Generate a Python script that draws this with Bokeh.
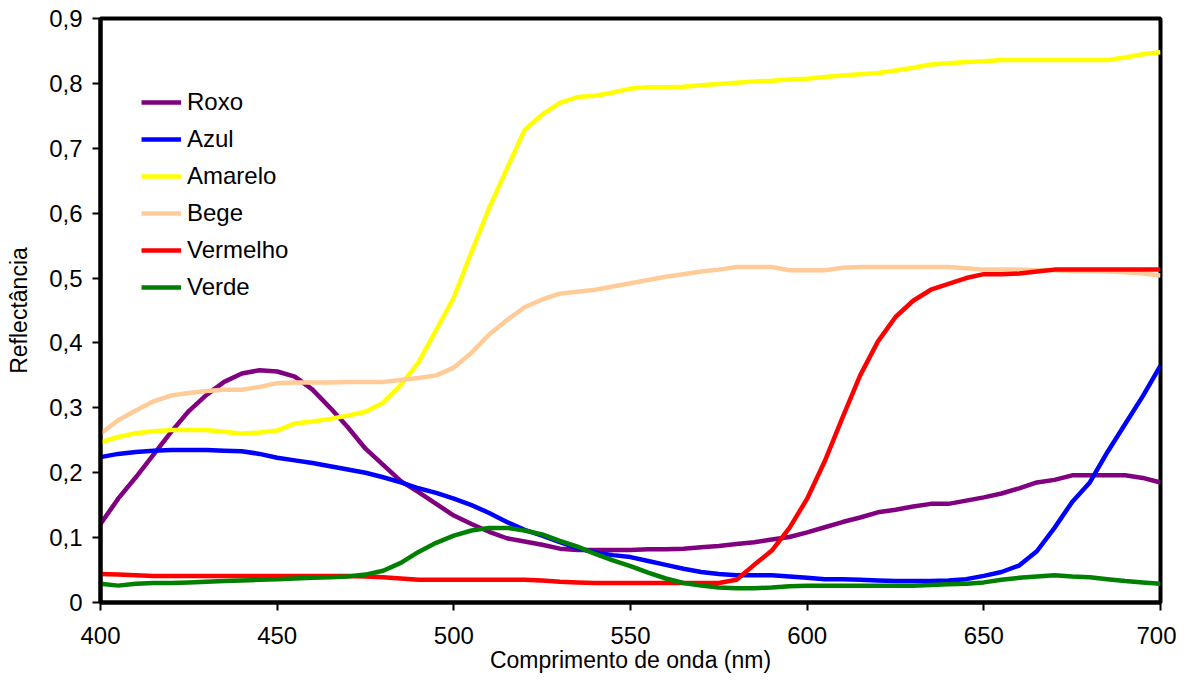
from bokeh.plotting import figure
from bokeh.models import Range1d, CustomJSTickFormatter, FixedTicker, Legend, LegendItem
from bokeh.embed import file_html
from bokeh.resources import INLINE

wavelength = list(range(400, 705, 5))

roxo = [0.121, 0.160, 0.193, 0.228, 0.263, 0.295, 0.320, 0.340, 0.353, 0.358,
        0.356, 0.348, 0.328, 0.300, 0.270, 0.237, 0.212, 0.187, 0.170, 0.152,
        0.134, 0.121, 0.109, 0.099, 0.094, 0.089, 0.083, 0.081, 0.081, 0.081,
        0.081, 0.082, 0.082, 0.083, 0.085, 0.087, 0.090, 0.093, 0.097, 0.101,
        0.108, 0.116, 0.124, 0.131, 0.139, 0.143, 0.148, 0.152, 0.152, 0.157,
        0.162, 0.168, 0.176, 0.185, 0.189, 0.196, 0.196, 0.196, 0.196, 0.192,
        0.185]

azul = [0.224, 0.229, 0.232, 0.234, 0.235, 0.235, 0.235, 0.234, 0.233, 0.229,
        0.223, 0.219, 0.215, 0.210, 0.205, 0.200, 0.193, 0.185, 0.176, 0.169,
        0.160, 0.150, 0.138, 0.124, 0.112, 0.103, 0.093, 0.084, 0.077, 0.073,
        0.070, 0.064, 0.058, 0.052, 0.047, 0.044, 0.042, 0.042, 0.042, 0.040,
        0.038, 0.036, 0.036, 0.035, 0.034, 0.033, 0.033, 0.033, 0.034, 0.036,
        0.041, 0.047, 0.057, 0.079, 0.115, 0.155, 0.185, 0.232, 0.275, 0.318,
        0.365]

amarelo = [0.247, 0.255, 0.261, 0.264, 0.266, 0.266, 0.266, 0.263, 0.260, 0.262,
           0.265, 0.276, 0.279, 0.283, 0.288, 0.294, 0.308, 0.335, 0.370, 0.420,
           0.470, 0.540, 0.608, 0.668, 0.728, 0.752, 0.770, 0.779, 0.781, 0.786,
           0.792, 0.794, 0.794, 0.795, 0.797, 0.799, 0.801, 0.803, 0.804, 0.806,
           0.807, 0.810, 0.812, 0.814, 0.816, 0.820, 0.824, 0.829, 0.831, 0.833,
           0.834, 0.836, 0.836, 0.836, 0.836, 0.836, 0.836, 0.836, 0.840, 0.845,
           0.848]

bege = [0.260, 0.281, 0.296, 0.310, 0.319, 0.323, 0.326, 0.328, 0.328, 0.332,
        0.338, 0.339, 0.339, 0.339, 0.340, 0.340, 0.340, 0.343, 0.346, 0.350,
        0.362, 0.385, 0.413, 0.435, 0.455, 0.467, 0.476, 0.479, 0.482, 0.487,
        0.492, 0.497, 0.502, 0.506, 0.510, 0.513, 0.517, 0.517, 0.517, 0.512,
        0.512, 0.512, 0.516, 0.517, 0.517, 0.517, 0.517, 0.517, 0.517, 0.515,
        0.513, 0.513, 0.513, 0.512, 0.512, 0.511, 0.511, 0.510, 0.509, 0.507,
        0.504]

vermelho = [0.044, 0.043, 0.042, 0.041, 0.041, 0.041, 0.041, 0.041, 0.041, 0.041,
            0.041, 0.041, 0.041, 0.041, 0.041, 0.040, 0.039, 0.037, 0.035, 0.035,
            0.035, 0.035, 0.035, 0.035, 0.035, 0.034, 0.032, 0.031, 0.030, 0.030,
            0.030, 0.030, 0.030, 0.030, 0.030, 0.030, 0.035, 0.058, 0.080, 0.115,
            0.160, 0.218, 0.285, 0.350, 0.402, 0.440, 0.465, 0.482, 0.491, 0.500,
            0.506, 0.506, 0.507, 0.510, 0.513, 0.513, 0.513, 0.513, 0.513, 0.513,
            0.513]

verde = [0.029, 0.026, 0.029, 0.030, 0.030, 0.031, 0.032, 0.033, 0.034, 0.035,
         0.036, 0.037, 0.038, 0.039, 0.040, 0.043, 0.049, 0.061, 0.078, 0.092,
         0.103, 0.111, 0.115, 0.115, 0.111, 0.105, 0.095, 0.086, 0.075, 0.065,
         0.056, 0.046, 0.037, 0.030, 0.026, 0.023, 0.022, 0.022, 0.023, 0.025,
         0.026, 0.026, 0.026, 0.026, 0.026, 0.026, 0.026, 0.027, 0.028, 0.029,
         0.031, 0.035, 0.038, 0.040, 0.042, 0.040, 0.039, 0.036, 0.033, 0.031,
         0.029]

series_names = ["Roxo", "Azul", "Amarelo", "Bege", "Vermelho", "Verde"]
series_values = [roxo, azul, amarelo, bege, vermelho, verde]
series_colors = ["#800080", "#0000FF", "#FFFF00", "#FFCC99", "#FF0000", "#008000"]

x_ticks = [400, 450, 500, 550, 600, 650, 700]
y_ticks = [0, 0.1, 0.2, 0.3, 0.4, 0.5, 0.6, 0.7, 0.8, 0.9]

FONT = "Liberation Sans"

p = figure(width=1176, height=677, output_backend="svg", toolbar_location=None,
           x_range=Range1d(400, 700), y_range=Range1d(0, 0.9),
           min_border_left=100, min_border_right=16, min_border_top=18, min_border_bottom=75)

p.background_fill_color = "white"
p.border_fill_color = "white"
p.outline_line_color = "black"
p.outline_line_width = 4
p.xgrid.visible = False
p.ygrid.visible = False

items = []
for name, vals, col in zip(series_names, series_values, series_colors):
    r = p.line(wavelength, vals, line_color=col, line_width=4.5)
    items.append(LegendItem(label=name, renderers=[r]))

legend = Legend(items=items, location=(41, 300))
legend.background_fill_alpha = 0
legend.border_line_alpha = 0
legend.padding = 0
legend.margin = 0
legend.spacing = 7
legend.glyph_width = 40
legend.glyph_height = 30
legend.label_height = 30
legend.label_standoff = 6
legend.label_text_font = FONT
legend.label_text_font_size = "24px"
legend.label_text_color = "black"
p.add_layout(legend, "center")

for ax in (p.xaxis[0], p.yaxis[0]):
    ax.axis_line_color = "black"
    ax.axis_line_width = 4
    ax.major_tick_line_color = "black"
    ax.major_tick_line_width = 2
    ax.major_tick_out = 8
    ax.major_tick_in = 0
    ax.minor_tick_line_color = None
    ax.major_label_text_font = FONT
    ax.major_label_text_font_size = "24px"
    ax.major_label_text_color = "black"
    ax.axis_label_text_font = FONT
    ax.axis_label_text_font_size = "23px"
    ax.axis_label_text_font_style = "normal"
    ax.axis_label_text_color = "black"

p.xaxis.ticker = FixedTicker(ticks=x_ticks)
p.yaxis.ticker = FixedTicker(ticks=y_ticks)
p.yaxis.formatter = CustomJSTickFormatter(code="return tick == 0 ? '0' : tick.toFixed(1).replace('.', ',');")
p.xaxis.formatter = CustomJSTickFormatter(code="return tick.toFixed(0);")
p.xaxis.major_label_standoff = 16
p.yaxis.major_label_standoff = 10
p.xaxis.axis_label = "Comprimento de onda (nm)"
p.yaxis.axis_label = "Reflectância"
p.xaxis.axis_label_standoff = 0
p.yaxis.axis_label_standoff = 14

open("out.html", "w").write(file_html(p, INLINE))
